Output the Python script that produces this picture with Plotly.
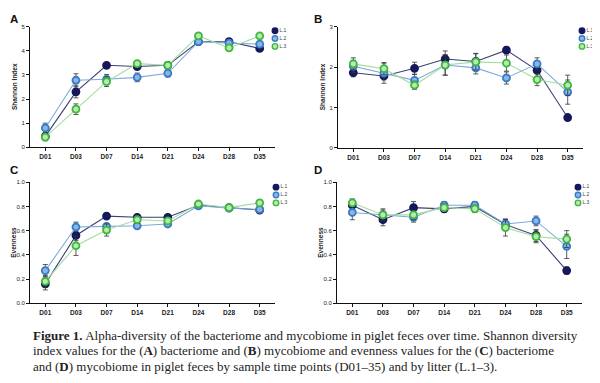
import plotly.graph_objects as go

days = ["D01", "D03", "D07", "D14", "D21", "D24", "D28", "D35"]
series = ["L.1", "L.2", "L.3"]

# Panel A: Shannon index, bacteriome
a_l1 = [0.45, 2.30, 3.40, 3.35, 3.40, 4.38, 4.38, 4.10]
a_l2 = [0.80, 2.78, 2.82, 2.90, 3.07, 4.38, 4.32, 4.28]
a_l3 = [0.42, 1.58, 2.72, 3.47, 3.40, 4.62, 4.12, 4.62]
a_e1 = [0.15, 0.25, 0.05, 0.10, 0.08, 0.08, 0.08, 0.07]
a_e2 = [0.20, 0.27, 0.20, 0.18, 0.15, 0.08, 0.08, 0.05]
a_e3 = [0.15, 0.22, 0.20, 0.10, 0.10, 0.08, 0.07, 0.05]

# Panel B: Shannon index, mycobiome
b_l1 = [1.86, 1.78, 1.97, 2.20, 2.14, 2.42, 1.92, 0.75]
b_l2 = [2.02, 1.85, 1.67, 2.05, 1.98, 1.73, 2.08, 1.38]
b_l3 = [2.08, 1.96, 1.55, 2.05, 2.13, 2.10, 1.69, 1.55]
b_e1 = [0.10, 0.10, 0.15, 0.20, 0.20, 0.08, 0.15, 0.07]
b_e2 = [0.15, 0.25, 0.15, 0.25, 0.15, 0.15, 0.15, 0.30]
b_e3 = [0.15, 0.15, 0.10, 0.25, 0.20, 0.20, 0.15, 0.25]

# Panel C: Evenness, bacteriome
c_l1 = [0.16, 0.56, 0.72, 0.71, 0.71, 0.81, 0.79, 0.77]
c_l2 = [0.27, 0.63, 0.635, 0.64, 0.655, 0.805, 0.785, 0.775]
c_l3 = [0.18, 0.475, 0.605, 0.69, 0.68, 0.82, 0.79, 0.83]
c_e1 = [0.05, 0.04, 0.01, 0.02, 0.01, 0.01, 0.01, 0.01]
c_e2 = [0.05, 0.04, 0.02, 0.02, 0.02, 0.01, 0.01, 0.01]
c_e3 = [0.05, 0.08, 0.05, 0.03, 0.02, 0.01, 0.01, 0.01]

# Panel D: Evenness, mycobiome
d_l1 = [0.81, 0.69, 0.79, 0.78, 0.80, 0.65, 0.56, 0.27]
d_l2 = [0.75, 0.73, 0.71, 0.81, 0.81, 0.655, 0.68, 0.47]
d_l3 = [0.83, 0.73, 0.73, 0.79, 0.78, 0.625, 0.55, 0.53]
d_e1 = [0.05, 0.05, 0.05, 0.03, 0.02, 0.04, 0.05, 0.03]
d_e2 = [0.06, 0.05, 0.04, 0.03, 0.03, 0.04, 0.04, 0.10]
d_e3 = [0.03, 0.04, 0.04, 0.03, 0.03, 0.07, 0.05, 0.07]

# page body has an 8px margin: the figure occupies window pixels 8..600 / 8..383
OFF = 8
W, H = 600 - OFF, 383 - OFF
def px(x):
    return (x - OFF) / W
def py(y):
    return 1 - (y - OFF) / H

marker_line = ["#15185a", "#3a7bc8", "#3cb83c"]
marker_fill = ["#15185a", "#8ab6e6", "#b9e8b0"]
line_col = ["#3b3f72", "#7ea9d8", "#a3dca0"]

panels = [
    dict(vals=[a_l1, a_l2, a_l3], errs=[a_e1, a_e2, a_e3], x0=30, x1=275, ytop=24, ybot=146.5,
         yr=[0, 5], dt=1, fmt="d", title="Shannon Index", lbl="A", lx=9, ly=9, legx=275, legy=24),
    dict(vals=[b_l1, b_l2, b_l3], errs=[b_e1, b_e2, b_e3], x0=338, x1=583, ytop=24, ybot=147,
         yr=[0, 3], dt=1, fmt="d", title="Shannon Index", lbl="B", lx=313, ly=9, legx=582, legy=24),
    dict(vals=[c_l1, c_l2, c_l3], errs=[c_e1, c_e2, c_e3], x0=30, x1=275, ytop=182, ybot=305,
         yr=[0, 1.0], dt=0.2, fmt=".1f", title="Evenness", lbl="C", lx=9, ly=162, legx=276, legy=183),
    dict(vals=[d_l1, d_l2, d_l3], errs=[d_e1, d_e2, d_e3], x0=337, x1=582, ytop=182, ybot=305,
         yr=[0, 1.0], dt=0.2, fmt=".1f", title="Evenness", lbl="D", lx=313, ly=162, legx=578, legy=183),
]

fig = go.Figure()
annotations = []
tickfont = dict(family="Arial, Liberation Sans", size=6, color="#222")

for p_i, p in enumerate(panels):
    k = p_i + 1
    xa = "x" if k == 1 else f"x{k}"
    ya = "y" if k == 1 else f"y{k}"
    for s_i, name in enumerate(series):
        fig.add_trace(go.Scatter(
            x=days, y=p["vals"][s_i], xaxis=xa, yaxis=ya, mode="lines+markers",
            name=name, showlegend=False,
            line=dict(color=line_col[s_i], width=1.1),
            marker=dict(size=7, color=marker_fill[s_i], line=dict(color=marker_line[s_i], width=1.8)),
            error_y=dict(type="data", array=p["errs"][s_i], color="#333", thickness=0.8, width=2.5),
        ))
    lay_x = "xaxis" if k == 1 else f"xaxis{k}"
    lay_y = "yaxis" if k == 1 else f"yaxis{k}"
    fig.layout[lay_x] = dict(
        domain=[px(p["x0"]), px(p["x1"])], anchor=ya, range=[-0.5, len(days) - 0.5],
        showline=True, linecolor="#111", linewidth=1, ticks="outside", ticklen=3,
        tickcolor="#111", tickwidth=1, showgrid=False, zeroline=False,
        tickfont=dict(family="Arial, Liberation Sans", size=6.5, color="#222", weight="bold"),
        categoryorder="array", categoryarray=days,
    )
    fig.layout[lay_y] = dict(
        domain=[py(p["ybot"]), py(p["ytop"])], anchor=xa, range=p["yr"],
        tick0=0, dtick=p["dt"], tickformat=p["fmt"],
        showline=True, linecolor="#111", linewidth=1, ticks="outside", ticklen=3,
        tickcolor="#111", tickwidth=1, showgrid=False, zeroline=False,
        tickfont=tickfont,
    )
    # legend drawn in its own small axis, positions from series index
    lk = k + 4
    lxa, lya = f"x{lk}", f"y{lk}"
    fig.add_trace(go.Scatter(
        x=[0] * len(series), y=list(range(len(series))), xaxis=lxa, yaxis=lya,
        mode="markers+text", text=series, textposition="middle right",
        textfont=dict(family="Arial, Liberation Sans", size=5, color="#444"),
        marker=dict(size=5.5, color=marker_fill, line=dict(color=marker_line, width=1.4)),
        showlegend=False, hoverinfo="skip", cliponaxis=False,
    ))
    fig.layout[f"xaxis{lk}"] = dict(domain=[px(p["legx"] - 5), px(p["legx"] + 5)], range=[-1, 1],
                                    visible=False, anchor=lya)
    fig.layout[f"yaxis{lk}"] = dict(domain=[py(p["legy"] + 24), py(p["legy"])],
                                    range=[len(series) - 0.5, -0.5], visible=False, anchor=lxa)
    annotations.append(dict(
        text=p["lbl"], xref="paper", yref="paper", x=px(p["lx"]), y=py(p["ly"]),
        xanchor="left", yanchor="top", showarrow=False, borderpad=0,
        font=dict(family="Arial, Liberation Sans", size=11.5, color="#111", weight="bold")))
    annotations.append(dict(
        text=p["title"], xref="paper", yref="paper", x=px(p["x0"] - 16),
        y=(py(p["ytop"]) + py(p["ybot"])) / 2, textangle=-90,
        xanchor="center", yanchor="middle", showarrow=False,
        font=dict(family="Arial, Liberation Sans", size=6.5, color="#222", weight="bold")))

caption = [
    "<b>Figure 1.</b> Alpha-diversity of the bacteriome and mycobiome in piglet feces over time. Shannon diversity",
    "index values for the (<b>A</b>) bacteriome and (<b>B</b>) mycobiome and evenness values for the (<b>C</b>) bacteriome",
    "and (<b>D</b>) mycobiome in piglet feces by sample time points (D01–35) and by litter (L.1–3).",
]
for i, line in enumerate(caption):
    annotations.append(dict(
        text=line, xref="paper", yref="paper", x=px(31), y=py(338 + i * 15.5),
        xanchor="left", yanchor="middle", showarrow=False,
        font=dict(family="Liberation Serif, Times New Roman, serif", size=13.0, color="#222")))

fig.update_layout(
    width=W, height=H, margin=dict(l=0, r=0, t=0, b=0),
    paper_bgcolor="white", plot_bgcolor="white",
    annotations=annotations, showlegend=False,
)

fig.write_html("out.html")
